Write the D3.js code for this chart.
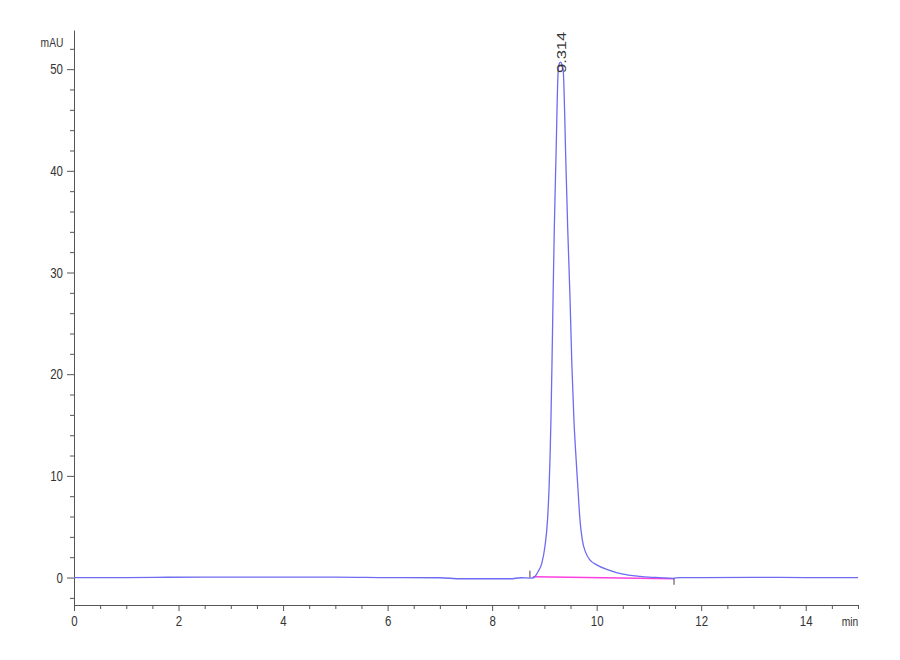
<!DOCTYPE html>
<html>
<head>
<meta charset="utf-8">
<script src="https://cdn.jsdelivr.net/npm/d3@7"></script>
<style>
  body { margin: 0; background: #fff; }
  text { font-family: "Liberation Sans", Arial, sans-serif; fill: #333; }
</style>
</head>
<body>
<div id="chart"></div>
<script>
// Chromatogram trace (min, mAU)
const timeMin = [0, 1, 1.8, 3, 4, 5, 6, 7, 7.4, 8, 8.35, 8.55, 8.74, 8.8, 8.82, 8.88, 8.95,
  9.01, 9.06, 9.09, 9.11, 9.125, 9.145, 9.165, 9.19, 9.22, 9.265, 9.29, 9.314, 9.34, 9.36, 9.41,
  9.445, 9.49, 9.525, 9.565, 9.6, 9.64, 9.68, 9.725, 9.795, 9.87, 10.0, 10.22, 10.48, 10.83,
  11.0, 11.2, 11.46, 11.6, 12, 13, 14, 15];
const signal = [0, 0, 0.03, 0.05, 0.05, 0.05, 0, -0.02, -0.12, -0.12, -0.12, -0.02, -0.05, 0, 0.1, 0.6, 1.4,
  3.05, 5.7, 8.9, 12.2, 15.5, 21, 27.3, 34.5, 41, 49.9, 50.6, 50.7, 50.4, 49.9, 41,
  34.5, 27.5, 21, 15.5, 12.2, 8.9, 5.7, 3.7, 2.4, 1.74, 1.25, 0.76, 0.36, 0.12,
  0.05, 0, -0.08, 0, 0, 0.02, 0, 0];

// integration baseline (start/end of the peak)
const baseTime = [8.78, 11.48];
const baseValue = [0.08, -0.12];

const peakTime = 9.314;
const peakValue = 50.7;
const peakLabel = "9.314";

const xMajorTicks = [0, 2, 4, 6, 8, 10, 12, 14];
const yMajorTicks = [0, 10, 20, 30, 40, 50];

const width = 900;
const height = 660;
const margin = { top: 30, right: 42, bottom: 55, left: 74 };

const svg = d3.select("#chart")
  .append("svg")
  .attr("width", width)
  .attr("height", height);

const xScale = d3.scaleLinear()
  .domain([0, 15])
  .range([margin.left, width - margin.right]);

const yScale = d3.scaleLinear()
  .domain([-2.7, 53.85])
  .range([height - margin.bottom, margin.top]);

const xMinor = d3.range(0, 15.01, 0.5).filter(t => !xMajorTicks.includes(t));
const yMinor = d3.range(-2, 53, 2).filter(v => !yMajorTicks.includes(v));

// Y axis
svg.append("g")
  .attr("transform", `translate(${margin.left},0)`)
  .call(d3.axisLeft(yScale).tickValues(yMinor).tickSize(4).tickFormat(""))
  .call(g => g.select(".domain").remove())
  .selectAll("line").attr("stroke", "#555");

const yAxis = svg.append("g")
  .attr("transform", `translate(${margin.left},0)`)
  .call(d3.axisLeft(yScale).tickValues(yMajorTicks).tickSize(7).tickSizeOuter(0));
yAxis.selectAll("line, path").attr("stroke", "#555");
yAxis.selectAll("text")
  .attr("x", 0)
  .attr("transform", "translate(-11,0) scale(0.82,1)")
  .style("font-size", "14px")
  .attr("fill", "#333");

// X axis
svg.append("g")
  .attr("transform", `translate(0,${height - margin.bottom})`)
  .call(d3.axisBottom(xScale).tickValues(xMinor).tickSize(4).tickFormat(""))
  .call(g => g.select(".domain").remove())
  .selectAll("line").attr("stroke", "#555");

const xAxis = svg.append("g")
  .attr("transform", `translate(0,${height - margin.bottom})`)
  .call(d3.axisBottom(xScale).tickValues(xMajorTicks).tickSize(6).tickPadding(5).tickSizeOuter(0));
xAxis.selectAll("line, path").attr("stroke", "#555");
xAxis.selectAll("text")
  .attr("transform", "scale(0.82,1)")
  .style("font-size", "14px")
  .attr("fill", "#333");

// Axis units
svg.append("text")
  .attr("transform", `translate(${margin.left - 22},${margin.top + 17}) scale(0.82,1)`)
  .attr("text-anchor", "middle")
  .style("font-size", "12.5px")
  .text("mAU");

svg.append("text")
  .attr("transform", `translate(${width - margin.right - 8},${height - margin.bottom + 21}) scale(0.82,1)`)
  .attr("text-anchor", "middle")
  .style("font-size", "12.5px")
  .text("min");

// Integration baseline
svg.append("line")
  .attr("x1", xScale(baseTime[0]))
  .attr("y1", yScale(baseValue[0]))
  .attr("x2", xScale(baseTime[1]))
  .attr("y2", yScale(baseValue[1]))
  .attr("stroke", "#ff40e0")
  .attr("stroke-width", 1.6);

// Start/end markers
svg.append("line")
  .attr("x1", xScale(baseTime[0]) - 3).attr("x2", xScale(baseTime[0]) - 3)
  .attr("y1", yScale(baseValue[0]) + 1).attr("y2", yScale(baseValue[0]) - 6)
  .attr("stroke", "#444").attr("stroke-width", 1);
svg.append("line")
  .attr("x1", xScale(baseTime[1])).attr("x2", xScale(baseTime[1]))
  .attr("y1", yScale(baseValue[1]) - 1).attr("y2", yScale(baseValue[1]) + 6)
  .attr("stroke", "#444").attr("stroke-width", 1);

// Signal trace
const trace = timeMin.map((t, i) => ({ t: t, v: signal[i] }));
svg.append("path")
  .datum(trace)
  .attr("fill", "none")
  .attr("stroke", "#6c6cf2")
  .attr("stroke-width", 1.3)
  .attr("d", d3.line()
    .x(d => xScale(d.t))
    .y(d => yScale(d.v))
    .curve(d3.curveMonotoneX)
  );

// Peak label
svg.append("text")
  .attr("transform", `translate(${xScale(peakTime)},${yScale(peakValue) + 11}) scale(0.82,1) rotate(-90)`)
  .attr("dy", "0.35em")
  .attr("text-anchor", "start")
  .style("font-size", "16.5px")
  .text(peakLabel);
</script>
</body>
</html>
